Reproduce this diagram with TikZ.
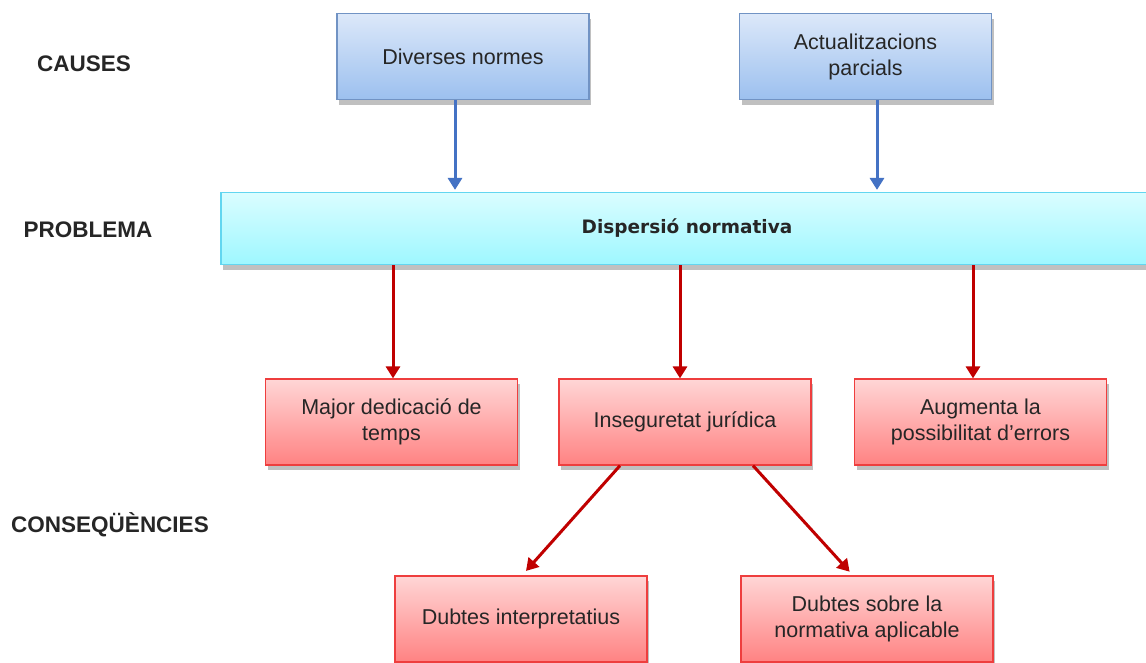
\documentclass[tikz,border=0pt]{standalone}
\usepackage{fontspec}
\setmainfont{Liberation Sans}
\newfontfamily\dvb{DejaVu Sans}
\usetikzlibrary{arrows.meta,shadows}
\definecolor{txt}{HTML}{262626}
\definecolor{btop}{HTML}{DCE8F9}
\definecolor{bbot}{HTML}{9CC0EF}
\definecolor{bborder}{HTML}{7193C4}
\definecolor{ctop}{HTML}{DAFDFF}
\definecolor{cbot}{HTML}{9EF7FF}
\definecolor{cborder}{HTML}{62D6F0}
\definecolor{rtop}{HTML}{FFD6D6}
\definecolor{rbot}{HTML}{FF8282}
\definecolor{rborder}{HTML}{EE3E3E}
\definecolor{barrow}{HTML}{4472C4}
\definecolor{rarrow}{HTML}{C00000}
\begin{document}
\begin{tikzpicture}[x=1pt,y=-1pt,
  box/.style={rectangle, minimum width=252pt, minimum height=86pt, inner sep=0pt, align=center,
    line width=1.2pt, text=txt, font=\fontsize{21.5}{26}\selectfont,
    drop shadow={shadow xshift=2pt, shadow yshift=-5pt, opacity=0.35, fill=black!70}},
  bluebox/.style={box, draw=bborder, top color=btop, bottom color=bbot},
  redbox/.style={box, draw=rborder, top color=rtop, bottom color=rbot},
  probbox/.style={box, minimum width=932pt, minimum height=72pt, draw=cborder, top color=ctop, bottom color=cbot,
    font=\dvb\bfseries\fontsize{18.5}{22}\selectfont},
  rowlabel/.style={font=\bfseries\fontsize{22.5}{26}\selectfont, text=txt, inner sep=0pt},
  bluearrow/.style={draw=barrow, line width=3pt, -{Triangle[width=14pt,length=12pt]}},
  redarrow/.style={draw=rarrow, line width=3pt, -{Triangle[width=14pt,length=12pt]}},
]
\useasboundingbox (0,0) rectangle (1146,662);
\clip (0,0) rectangle (1146,662);
\fill[white] (0,0) rectangle (1146,662);

\node[rowlabel] (lcau) at (84,64) {CAUSES};
\node[rowlabel] (lpro) at (88,229.5) {PROBLEMA};
\node[rowlabel] (lcon) at (110,524.5) {CONSEQÜÈNCIES};

\node[bluebox] (div) at (463,56.5) {Diverses normes};
\node[bluebox] (act) at (865.5,56.5) {Actualitzacions\\parcials};

\node[probbox] (prob) at (687,228.5) {Dispersió normativa};

\node[redbox] (maj) at (391.5,422) {Major dedicació de\\temps};
\node[redbox] (ins) at (685,422) {Inseguretat jurídica};
\node[redbox] (aug) at (980.5,422) {Augmenta la\\possibilitat d’errors};

\node[redbox] (dub1) at (521,619) {Dubtes interpretatius};
\node[redbox] (dub2) at (867,619) {Dubtes sobre la\\normativa aplicable};

\draw[bluearrow, shorten >=2pt] ([xshift=-8pt]div.south) -- ([xshift=-8pt]div.south |- prob.north);
\draw[bluearrow, shorten >=2pt] ([xshift=11.5pt]act.south) -- ([xshift=11.5pt]act.south |- prob.north);

\draw[redarrow] ([xshift=1.5pt]maj.north |- prob.south) -- ([xshift=1.5pt]maj.north);
\draw[redarrow] ([xshift=-5pt]ins.north |- prob.south) -- ([xshift=-5pt]ins.north);
\draw[redarrow] ([xshift=-7.5pt]aug.north |- prob.south) -- ([xshift=-7.5pt]aug.north);

\draw[redarrow, shorten >=6pt] ([xshift=-65pt]ins.south) -- ([xshift=1pt]dub1.north);
\draw[redarrow, shorten >=5pt] ([xshift=68pt]ins.south) -- ([xshift=-14pt]dub2.north);
\end{tikzpicture}
\end{document}
